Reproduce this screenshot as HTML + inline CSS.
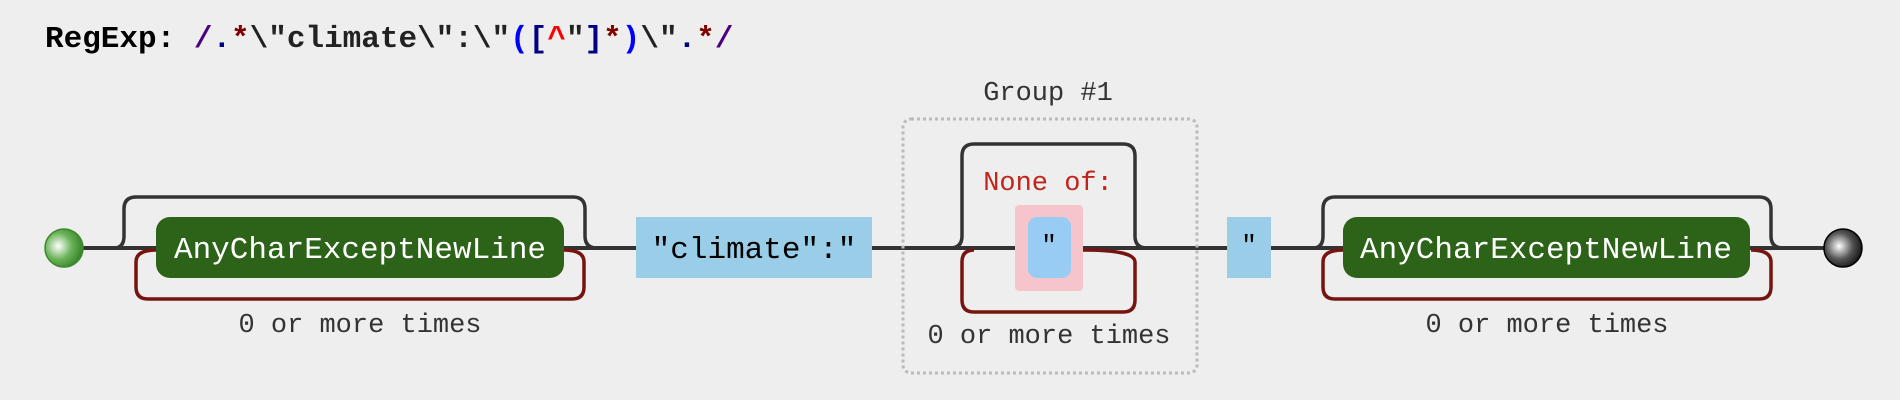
<!DOCTYPE html>
<html><head><meta charset="utf-8"><style>
html,body{margin:0;padding:0;background:#eeeeee;width:1900px;height:400px;overflow:hidden}
svg{display:block}
text{font-family:"Liberation Mono",monospace}
</style></head><body>
<svg width="1900" height="400" viewBox="0 0 1900 400" xmlns="http://www.w3.org/2000/svg">
<defs>
<radialGradient id="gs" cx="0.35" cy="0.45" r="0.7"><stop offset="0" stop-color="#ffffff"/><stop offset="0.5" stop-color="#6bb35a"/><stop offset="1" stop-color="#2d7a1f"/></radialGradient>
<radialGradient id="ge" cx="0.4" cy="0.45" r="0.7"><stop offset="0" stop-color="#ffffff"/><stop offset="0.5" stop-color="#555"/><stop offset="1" stop-color="#000"/></radialGradient>
</defs>
<text x="45" y="47" font-size="31" font-weight="bold" fill="#000">RegExp: <tspan fill="#4b0082">/</tspan><tspan fill="#000080">.</tspan><tspan fill="#800000">*</tspan><tspan fill="#222">\"climate\":\"</tspan><tspan fill="#0000ff">(</tspan><tspan fill="#000080">[</tspan><tspan fill="#ff0000">^</tspan><tspan fill="#222">"</tspan><tspan fill="#000080">]</tspan><tspan fill="#800000">*</tspan><tspan fill="#0000ff">)</tspan><tspan fill="#222">\"</tspan><tspan fill="#000080">.</tspan><tspan fill="#800000">*</tspan><tspan fill="#4b0082">/</tspan></text>

<!-- main line -->
<line x1="64" y1="248" x2="1843" y2="248" stroke="#333" stroke-width="4"/>

<!-- group box -->
<rect x="903" y="119" width="294" height="254" rx="8" fill="none" stroke="#bbb" stroke-width="3" stroke-dasharray="3,3"/>
<text x="1048" y="100" font-size="27" fill="#333" text-anchor="middle">Group #1</text>

<!-- loop 1 -->
<path d="M114 248 q10 0 10 -12 V209 q0 -12 12 -12 H573 q12 0 12 12 V236 q0 12 12 12" fill="none" stroke="#333" stroke-width="3.5"/>
<path d="M156 250 q-20 0 -20 12 V287 q0 12 12 12 H572 q12 0 12 -12 V262 q0 -12 -20 -12" fill="none" stroke="#761510" stroke-width="3.5"/>
<rect x="156" y="217" width="408" height="61" rx="14" fill="#2c6318"/>
<text x="360" y="258" font-size="31" fill="#fff" text-anchor="middle">AnyCharExceptNewLine</text>
<text x="360" y="332" font-size="27" fill="#333" text-anchor="middle">0 or more times</text>

<!-- climate -->
<rect x="636" y="217" width="236" height="61" fill="#99cde8"/>
<text x="754" y="258" font-size="31" fill="#000" text-anchor="middle">"climate":"</text>

<!-- group inner loop -->
<path d="M950 248 q12 0 12 -12 V156 q0 -12 12 -12 H1123 q12 0 12 12 V236 q0 12 12 12" fill="none" stroke="#333" stroke-width="3.5"/>
<path d="M1083 250 q52 0 52 12 V300 q0 12 -12 12 H974 q-12 0 -12 -12 V262 q0 -12 12 -12" fill="none" stroke="#761510" stroke-width="3.5"/>
<text x="1048" y="190" font-size="27" fill="#c0241b" text-anchor="middle">None of:</text>
<rect x="1015" y="205" width="68" height="86" rx="4" fill="#f6c5cb"/>
<rect x="1028" y="217" width="43" height="61" rx="9" fill="#99ccf5"/>
<text x="1049" y="253" font-size="26" fill="#000" text-anchor="middle">"</text>
<text x="1049" y="343" font-size="27" fill="#333" text-anchor="middle">0 or more times</text>

<!-- quote -->
<rect x="1227" y="217" width="44" height="61" fill="#99cde8"/>
<text x="1249" y="253" font-size="26" fill="#000" text-anchor="middle">"</text>

<!-- loop 2 -->
<path d="M1313 248 q10 0 10 -12 V209 q0 -12 12 -12 H1759 q12 0 12 12 V236 q0 12 12 12" fill="none" stroke="#333" stroke-width="3.5"/>
<path d="M1343 250 q-20 0 -20 12 V287 q0 12 12 12 H1759 q12 0 12 -12 V262 q0 -12 -20 -12" fill="none" stroke="#761510" stroke-width="3.5"/>
<rect x="1343" y="217" width="407" height="61" rx="14" fill="#2c6318"/>
<text x="1546" y="258" font-size="31" fill="#fff" text-anchor="middle">AnyCharExceptNewLine</text>
<text x="1547" y="332" font-size="27" fill="#333" text-anchor="middle">0 or more times</text>

<circle cx="64" cy="248" r="19" fill="url(#gs)" stroke="#3d8a2c" stroke-width="1.5"/>
<circle cx="1843" cy="248" r="19" fill="url(#ge)" stroke="#000" stroke-width="1.5"/>
</svg>
</body></html>
